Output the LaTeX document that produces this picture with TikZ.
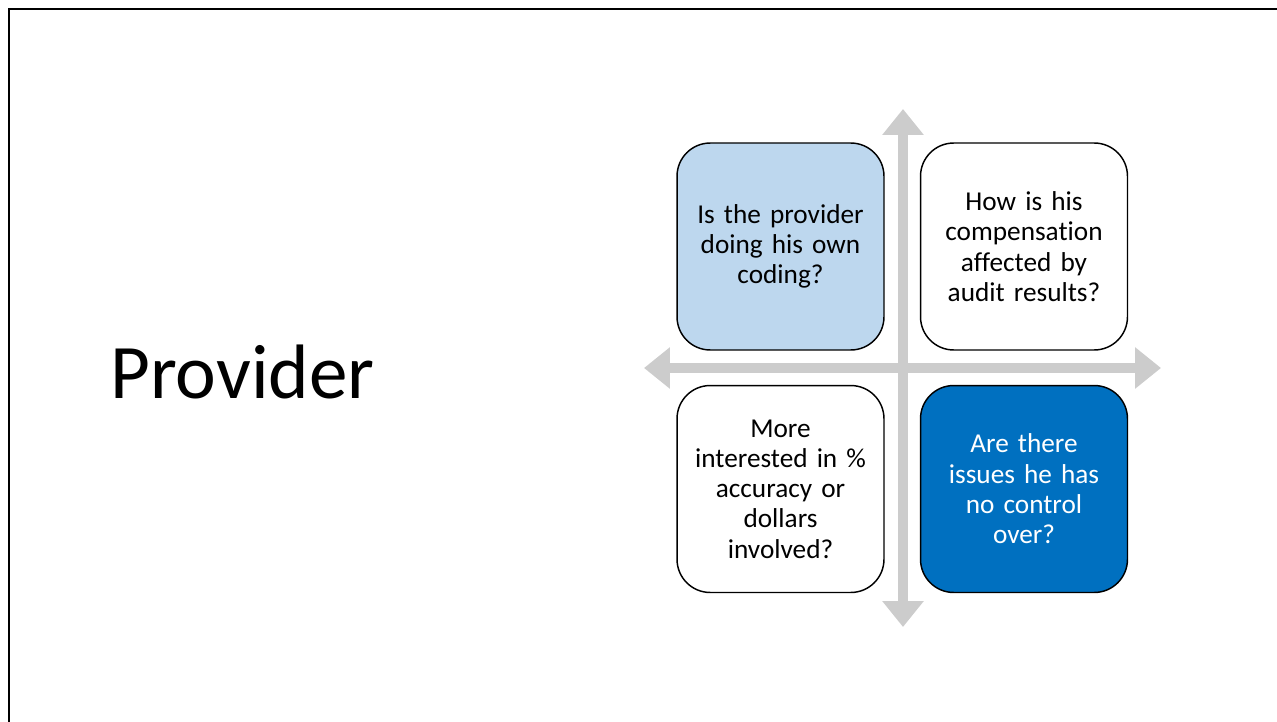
\documentclass[tikz,border=0pt]{standalone}
\usepackage{fontspec}
\setmainfont{Carlito}[Ligatures=NoCommon]
\usetikzlibrary{arrows.meta}
\definecolor{lightblue}{HTML}{BDD7EE}
\definecolor{darkblue}{HTML}{0070C0}
\definecolor{crossgray}{HTML}{CCCCCC}
\begin{document}
\begin{tikzpicture}[x=0.7518pt, y=-0.7518pt,
	quad/.style={draw=black, line width=1.1pt, rounded corners=25pt, minimum width=155.6pt, minimum height=155.6pt, inner sep=0pt, text width=145pt, align=center, font=\fontsize{20.5}{22.8}\selectfont},
	cross/.style={crossgray, line width=7.8pt, {Triangle[length=19.5pt,width=30pt]}-{Triangle[length=19.5pt,width=30pt]}}]
		\useasboundingbox (0,0) rectangle (1277,722);
		% frame
		\draw[line width=2pt] (9,722) -- (9,9) -- (1277,9);
		% title
		\node[anchor=base west, font=\fontsize{58}{70}\selectfont, inner sep=0pt] (title) at (110,398) {Provider};
		% axes
		\coordinate (west) at (644,368);
		\coordinate (east) at (1161,368);
		\coordinate (north) at (903,109);
		\coordinate (south) at (903,627);
		\draw[cross] (west) -- (east);
		\draw[cross] (north) -- (south);
		% quadrants
		\node[quad, fill=lightblue] (own) at (780.5,246.5) {Is the provider\\doing his own\\coding?};
		\node[quad, fill=white] (pay) at (1024,246.5) {How is his\\compensation\\affected by\\audit results?};
		\node[quad, fill=white] (money) at (780.5,489) {More\\interested in \%\\accuracy or\\dollars\\involved?};
		\node[quad, fill=darkblue, text=white] (control) at (1024,489) {Are there\\issues he has\\no control\\over?};
\end{tikzpicture}
\end{document}
